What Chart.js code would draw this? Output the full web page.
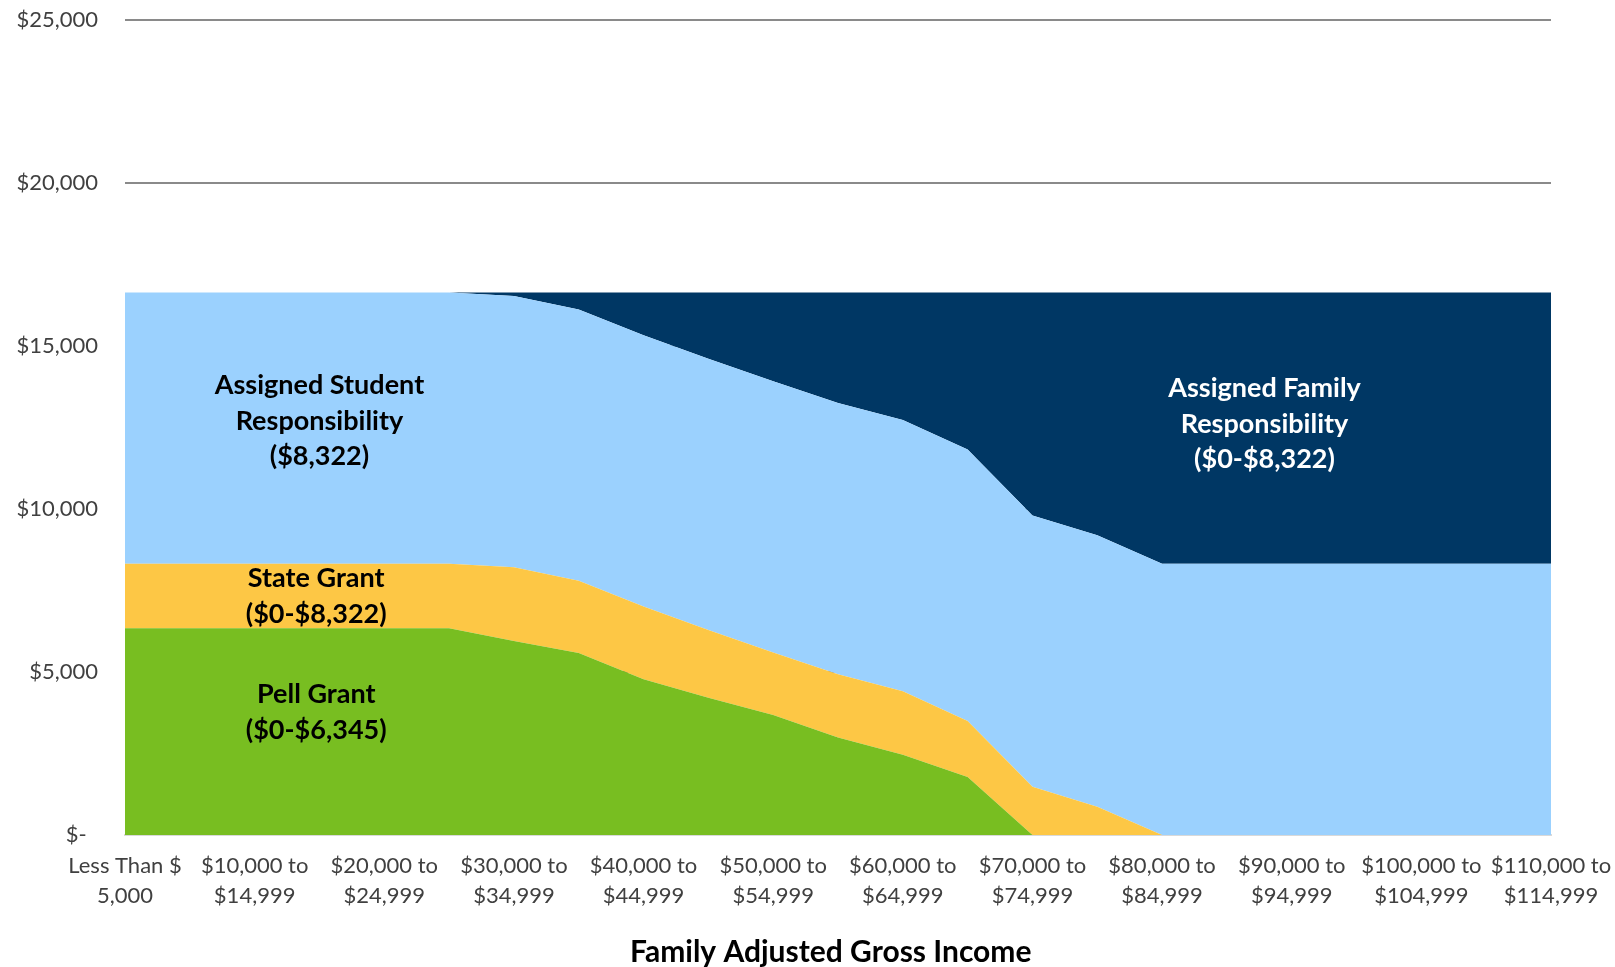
<!DOCTYPE html>
<html>
<head>
<meta charset="utf-8">
<script src="https://cdn.jsdelivr.net/npm/chart.js@4.4.1/dist/chart.umd.min.js"></script>
<style>
html,body{margin:0;padding:0;background:#ffffff;}
canvas{display:block;}
</style>
</head>
<body>
<canvas id="c" width="1615" height="967"></canvas>
<script>
// ---- data ----
const categories = [
  ['Less Than $','5,000'], ['$5,000 to','$9,999'], ['$10,000 to','$14,999'], ['$15,000 to','$19,999'],
  ['$20,000 to','$24,999'], ['$25,000 to','$29,999'], ['$30,000 to','$34,999'], ['$35,000 to','$39,999'],
  ['$40,000 to','$44,999'], ['$45,000 to','$49,999'], ['$50,000 to','$54,999'], ['$55,000 to','$59,999'],
  ['$60,000 to','$64,999'], ['$65,000 to','$69,999'], ['$70,000 to','$74,999'], ['$75,000 to','$79,999'],
  ['$80,000 to','$84,999'], ['$85,000 to','$89,999'], ['$90,000 to','$94,999'], ['$95,000 to','$99,999'],
  ['$100,000 to','$104,999'], ['$105,000 to','$109,999'], ['$110,000 to','$114,999']
];
const pellGrant = [6345,6345,6345,6345,6345,6345,5950,5580,4780,4210,3680,2990,2460,1780,0,0,0,0,0,0,0,0,0];
const stateGrant = [1977,1977,1977,1977,1977,1977,2260,2220,2230,2080,1920,1940,1950,1720,1480,870,0,0,0,0,0,0,0];
const studentResp = [8322,8322,8322,8322,8322,8322,8322,8322,8322,8322,8322,8322,8322,8322,8322,8322,8322,8322,8322,8322,8322,8322,8322];
const familyResp = [0,0,0,0,0,0,112,522,1312,2032,2722,3392,3912,4822,6842,7452,8322,8322,8322,8322,8322,8322,8322];
const yTickValues = [0,5000,10000,15000,20000,25000];
const seriesNames = ['Pell Grant','State Grant','Assigned Student Responsibility','Assigned Family Responsibility'];
const areaLabelLines = [
  ['Assigned Student','Responsibility','($8,322)'],
  ['State Grant','($0-$8,322)'],
  ['Pell Grant','($0-$6,345)'],
  ['Assigned Family','Responsibility','($0-$8,322)']
];
const xTitle = 'Family Adjusted Gross Income';

// ---- styling ----
const FONT = 'Lato, "Open Sans", "DejaVu Sans", sans-serif';
const colors = ['#78BE21','#FDC745','#9BD1FE','#003764'];
const seriesData = [pellGrant, stateGrant, studentResp, familyResp];

const areaTextPlugin = {
  id: 'areaText',
  afterDatasetsDraw(chart, args, opts) {
    const {ctx} = chart;
    const x = chart.scales.x, y = chart.scales.y;
    ctx.save();
    ctx.font = opts.font;
    ctx.textAlign = 'center';
    ctx.textBaseline = 'middle';
    opts.items.forEach(it => {
      const cx = x.getPixelForValue(it.at[0]);
      const cy = y.getPixelForValue(it.at[1]);
      const n = it.lines.length;
      ctx.fillStyle = it.color;
      it.lines.forEach((ln, k) => ctx.fillText(ln, cx, cy + (k - (n - 1) / 2) * opts.lineHeight));
    });
    ctx.restore();
  }
};

const chart = new Chart(document.getElementById('c'), {
  type: 'line',
  data: {
    labels: categories,
    datasets: seriesData.map((d, i) => ({
      label: seriesNames[i],
      data: d,
      backgroundColor: colors[i],
      borderColor: colors[i],
      borderWidth: 0,
      pointRadius: 0,
      pointHoverRadius: 0,
      tension: 0,
      fill: i === 0 ? 'origin' : '-1'
    }))
  },
  plugins: [areaTextPlugin],
  options: {
    responsive: false,
    animation: false,
    devicePixelRatio: 1,
    layout: {padding: {top: 20, right: 64, bottom: 0, left: 0}},
    plugins: {
      legend: {display: false},
      tooltip: {enabled: false},
      areaText: {
        font: 'bold 27px ' + FONT,
        lineHeight: 35.5,
        items: [
          {lines: areaLabelLines[0], at: [3, 12700], color: '#000000'},
          {lines: areaLabelLines[1], at: [2.95, 7320], color: '#000000'},
          {lines: areaLabelLines[2], at: [2.95, 3760], color: '#000000'},
          {lines: areaLabelLines[3], at: [17.58, 12610], color: '#ffffff'}
        ]
      }
    },
    scales: {
      x: {
        type: 'category',
        offset: false,
        grid: {display: false, drawTicks: false},
        border: {display: true, color: '#d9d9d9', width: 2},
        ticks: {
          autoSkip: false,
          maxRotation: 0,
          minRotation: 0,
          padding: 16,
          color: '#404040',
          font: {family: FONT, size: 22, lineHeight: 1.36},
          callback: function(v, i) { return i % 2 === 0 ? categories[i] : ''; }
        },
        title: {
          display: true,
          text: xTitle + '  ',
          color: '#000000',
          font: {family: FONT, size: 30, weight: 'bold', lineHeight: 1},
          padding: {top: 0, bottom: 0}
        },
        afterFit(scale) { scale.height = 132; scale.paddingLeft = 0; scale.paddingRight = 0; }
      },
      y: {
        stacked: true,
        min: 0,
        max: 25000,
        afterBuildTicks(scale) { scale.ticks = yTickValues.map(v => ({value: v})); },
        grid: {color: '#8a8a8a', lineWidth: 2, drawTicks: false},
        border: {display: false},
        ticks: {
          padding: 27,
          color: '#404040',
          font: {family: FONT, size: 22},
          callback: v => v === 0 ? '$-  ' : '$' + Number(v).toLocaleString('en-US')
        },
        afterFit(scale) { scale.width = 125; scale.paddingTop = 0; scale.paddingBottom = 0; }
      }
    }
  }
});
</script>
</body>
</html>
